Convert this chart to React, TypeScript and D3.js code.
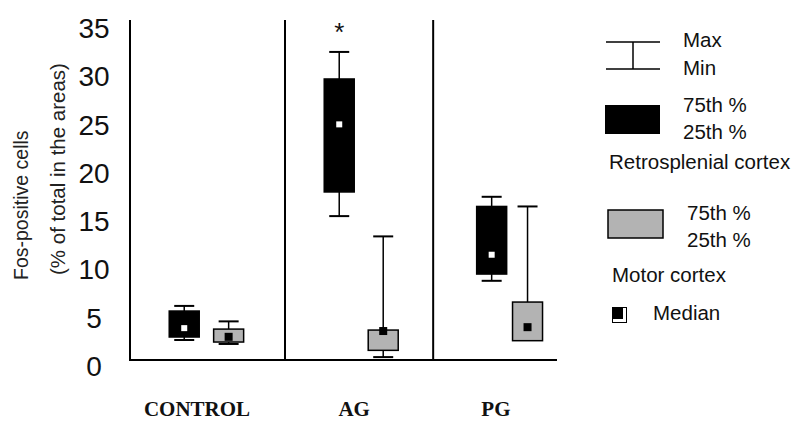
import React from "react";
import * as d3 from "d3";

// ---- data ----
const groups = ["CONTROL", "AG", "PG"];
const groupLabelPos = [1.57, 5.25, 8.57];
const dividerPos = [3.63, 7.1];
const yTicks = [0, 5, 10, 15, 20, 25, 30, 35];

// box order: CONTROL retro, CONTROL motor, AG retro, AG motor, PG retro, PG motor
const boxGroup = ["CONTROL", "CONTROL", "AG", "AG", "PG", "PG"];
const boxArea = ["Retrosplenial", "Motor", "Retrosplenial", "Motor", "Retrosplenial", "Motor"];
const boxPos = [1.27, 2.31, 4.9, 5.93, 8.47, 9.31];
const boxMax = [5.6, 4.0, 31.9, 12.8, 16.9, 15.9];
const boxQ3 = [5.07, 3.2, 29.1, 3.1, 15.9, 6.0];
const boxMedian = [3.3, 2.4, 24.4, 3.0, 10.9, 3.4];
const boxQ1 = [2.38, 1.86, 17.4, 1.0, 8.9, 2.0];
const boxMin = [2.07, 1.66, 14.9, 0.3, 8.2, 2.0];
const significant = [false, false, true, false, false, false];

const GRAY = "#b3b3b3";
const SANS = "Liberation Sans, Arial, sans-serif";
const SERIF = "Liberation Serif, Times New Roman, serif";

export default function App() {
  const W = 799, H = 423;
  const x = d3.scaleLinear().domain([0, 10]).range([130, 557]);
  const y = d3.scaleLinear().domain([0, 35]).range([360, 22]);
  const boxW = 30, capW = 20;

  return (
    <svg width={W} height={H} style={{ position: "absolute", left: 0, top: 0, background: "#fff" }}>
      {/* axes */}
      <line x1={x(0)} x2={x(0)} y1={y(35) - 2} y2={y(0)} stroke="#000" strokeWidth={2} />
      <line x1={x(0) - 1} x2={x(10)} y1={y(0)} y2={y(0)} stroke="#000" strokeWidth={2} />
      {dividerPos.map((d, i) => (
        <line key={i} x1={x(d)} x2={x(d)} y1={y(35) - 2} y2={y(0) + 1} stroke="#000" strokeWidth={2} />
      ))}
      {yTicks.map((t) => (
        <text key={t} x={94} y={y(t) + 16} textAnchor="middle" fontFamily={SANS} fontSize={28} fill="#111">
          {t}
        </text>
      ))}
      <text transform={`translate(28,280) rotate(-90)`} fontFamily={SANS} fontSize={19.5} fill="#222">
        Fos-positive cells
      </text>
      <text transform={`translate(65,275) rotate(-90)`} fontFamily={SANS} fontSize={20.5} fill="#222">
        (% of total in the areas)
      </text>

      {/* category labels */}
      {groups.map((g, i) => (
        <text key={g} x={x(groupLabelPos[i])} y={416} textAnchor="middle" fontFamily={SERIF} fontWeight="bold" fontSize={21} fill="#111">
          {g}
        </text>
      ))}

      {/* boxes */}
      {boxPos.map((p, i) => {
        const cx = x(p);
        const retro = boxArea[i] === "Retrosplenial";
        const ms = retro ? 6 : 8;
        return (
          <g key={i}>
            <line x1={cx} x2={cx} y1={y(boxMax[i])} y2={y(boxQ3[i])} stroke="#000" strokeWidth={1.5} />
            <line x1={cx} x2={cx} y1={y(boxQ1[i])} y2={y(boxMin[i])} stroke="#000" strokeWidth={1.5} />
            <line x1={cx - capW / 2} x2={cx + capW / 2} y1={y(boxMax[i])} y2={y(boxMax[i])} stroke="#000" strokeWidth={2} />
            {boxMin[i] < boxQ1[i] && (
              <line x1={cx - capW / 2} x2={cx + capW / 2} y1={y(boxMin[i])} y2={y(boxMin[i])} stroke="#000" strokeWidth={2} />
            )}
            <rect
              x={cx - boxW / 2}
              y={y(boxQ3[i])}
              width={boxW}
              height={y(boxQ1[i]) - y(boxQ3[i])}
              fill={retro ? "#000" : GRAY}
              stroke="#000"
              strokeWidth={1.5}
            />
            <rect
              x={cx - ms / 2}
              y={y(boxMedian[i]) - ms / 2}
              width={ms}
              height={ms}
              fill={retro ? "#fff" : "#000"}
            />
            {significant[i] && (
              <text x={cx} y={y(boxMax[i]) - 11} textAnchor="middle" fontFamily={SANS} fontSize={26} fill="#111">
                *
              </text>
            )}
          </g>
        );
      })}

      {/* legend */}
      <g fontFamily={SANS} fontSize={20.5} fill="#111">
        <line x1={606} x2={660} y1={42} y2={42} stroke="#000" strokeWidth={1.5} />
        <line x1={606} x2={660} y1={69} y2={69} stroke="#000" strokeWidth={1.5} />
        <line x1={633} x2={633} y1={42} y2={69} stroke="#000" strokeWidth={1.5} />
        <text x={683} y={47}>Max</text>
        <text x={683} y={75}>Min</text>
        <rect x={605} y={105} width={55} height={29} fill="#000" />
        <text x={683} y={112}>75th %</text>
        <text x={683} y={139}>25th %</text>
        <text x={609} y={169}>Retrosplenial cortex</text>
        <rect x={608} y={210} width={55} height={28} fill={GRAY} stroke="#000" strokeWidth={1.5} />
        <text x={687} y={220}>75th %</text>
        <text x={687} y={247}>25th %</text>
        <text x={612} y={282}>Motor cortex</text>
        <rect x={612.5} y={307.5} width={14} height={15} fill="#fff" stroke="#000" strokeWidth={1} />
        <rect x={613} y={308} width={10} height={11} fill="#000" />
        <text x={653} y={320}>Median</text>
      </g>
    </svg>
  );
}
